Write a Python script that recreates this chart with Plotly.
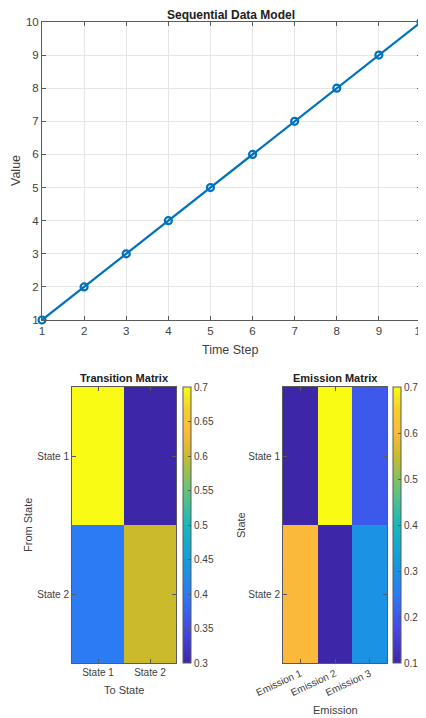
import plotly.graph_objects as go

# ---- data ----
time_steps = [1, 2, 3, 4, 5, 6, 7, 8, 9, 10]
values = [1, 2, 3, 4, 5, 6, 7, 8, 9, 10]
states = ["State 1", "State 2"]
emissions = ["Emission 1", "Emission 2", "Emission 3"]
transition = [[0.7, 0.3], [0.4, 0.6]]
emission = [[0.1, 0.7, 0.2], [0.6, 0.1, 0.3]]
trans_ticks = [0.3, 0.35, 0.4, 0.45, 0.5, 0.55, 0.6, 0.65, 0.7]
emis_ticks = [0.1, 0.2, 0.3, 0.4, 0.5, 0.6, 0.7]

# page body has an 8px margin; the figure fills the rest of the 426x718 window
OFF = 8
W, H = 426 - OFF, 718 - OFF
def fx(px): return (px - OFF) / W
def fy(py): return 1 - (py - OFF) / H

parula = [
    [0.0, "#3e26a8"],
    [0.125, "#4648e6"],
    [0.25, "#2b7bf4"],
    [0.375, "#149ddc"],
    [0.5, "#17b9bb"],
    [0.625, "#62c47a"],
    [0.75, "#cbbb2c"],
    [0.833, "#fbb93c"],
    [0.92, "#f6d02c"],
    [1.0, "#f9fb15"],
]

FONT = "Liberation Sans, Arial, sans-serif"
AX = "#5a5a5a"
TXT = "#404040"

fig = go.Figure()

# top line chart
fig.add_trace(go.Scatter(
    x=time_steps, y=values, mode="lines+markers", cliponaxis=False,
    line=dict(color="#0072bd", width=2.2),
    marker=dict(symbol="circle-open", size=7, color="#0072bd", line=dict(width=2.2, color="#0072bd")),
    xaxis="x", yaxis="y", showlegend=False))

top_h, bot_h = 387, 663
cb_common = dict(y=fy(bot_h), yanchor="bottom", len=(bot_h - top_h) / H,
                 lenmode="fraction", thickness=8, ticks="inside", ticklen=3,
                 tickcolor=AX, outlinewidth=1, outlinecolor=AX,
                 ticklabeloverflow="allow",
                 tickfont=dict(size=10, color=TXT, family=FONT), xpad=0, ypad=0)

# transition heatmap
fig.add_trace(go.Heatmap(
    z=transition, x=states, y=states, colorscale=parula, zmin=0.3, zmax=0.7,
    xaxis="x2", yaxis="y2",
    colorbar=dict(x=fx(183), xanchor="left",
                  tickvals=trans_ticks, ticktext=[f"{v:g}" for v in trans_ticks],
                  **cb_common)))

# emission heatmap
fig.add_trace(go.Heatmap(
    z=emission, x=emissions, y=states, colorscale=parula, zmin=0.1, zmax=0.7,
    xaxis="x3", yaxis="y3",
    colorbar=dict(x=fx(393), xanchor="left",
                  tickvals=emis_ticks, ticktext=[f"{v:g}" for v in emis_ticks],
                  **cb_common)))

def axcommon(size):
    return dict(showline=True, linecolor=AX, linewidth=1, mirror="ticks",
                ticks="inside", ticklen=4, tickcolor=AX, ticklabeloverflow="allow",
                automargin=False,
                tickfont=dict(size=size, color=TXT, family=FONT), zeroline=False)

fig.update_layout(
    width=W, height=H, margin=dict(l=0, r=0, t=0, b=0, autoexpand=False),
    paper_bgcolor="white", plot_bgcolor="white",
    font=dict(family=FONT, color=TXT),
    xaxis=dict(domain=[fx(42), fx(421)], range=[1, 10], tickvals=time_steps,
               showgrid=True, gridcolor="#e6e6e6", anchor="y", **axcommon(11.5)),
    yaxis=dict(domain=[fy(320), fy(22)], range=[1, 10], tickvals=values,
               showgrid=True, gridcolor="#e6e6e6", anchor="x", **axcommon(11.5)),
    xaxis2=dict(domain=[fx(72), fx(176)], anchor="y2", showgrid=False, **axcommon(10)),
    yaxis2=dict(domain=[fy(bot_h), fy(top_h)], anchor="x2", autorange="reversed",
                showgrid=False, **axcommon(10)),
    xaxis3=dict(domain=[fx(283), fx(387)], anchor="y3", showgrid=False,
                tickangle=-25, **axcommon(10)),
    yaxis3=dict(domain=[fy(bot_h), fy(top_h)], anchor="x3", autorange="reversed",
                showgrid=False, **axcommon(10)),
)

def ann(text, x, y, size=12, bold=False, angle=0, color=TXT):
    fig.add_annotation(text=f"<b>{text}</b>" if bold else text,
                       x=fx(x), y=fy(y), xref="paper", yref="paper",
                       showarrow=False, textangle=angle,
                       font=dict(size=size, color="#202020" if bold else color, family=FONT),
                       xanchor="center", yanchor="middle")

ann("Sequential Data Model", 231, 15.5, size=12, bold=True)
ann("Time Step", 231, 350, size=12.5)
ann("Value", 16, 171, size=12.5, angle=-90)
ann("Transition Matrix", 124, 378, size=11, bold=True)
ann("To State", 124, 690, size=11)
ann("From State", 28, 525, size=11, angle=-90)
ann("Emission Matrix", 335, 378, size=11, bold=True)
ann("Emission", 335, 710, size=11)
ann("State", 241, 525, size=11, angle=-90)

fig.write_html("out.html")
